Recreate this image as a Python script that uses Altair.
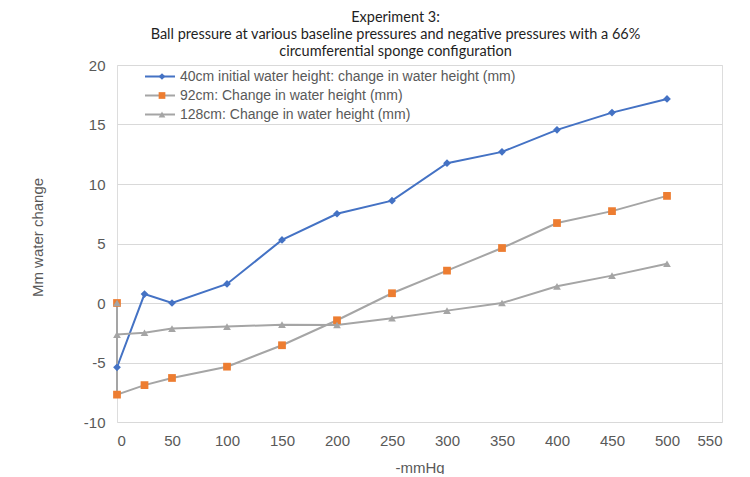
import altair as alt
import pandas as pd

series_names = [
    "40cm initial water height: change in water height (mm)",
    "92cm: Change in water height (mm)",
    "128cm: Change in water height (mm)",
]
x1 = [0, 25, 50, 100, 150, 200, 250, 300, 350, 400, 450, 500]
y1 = [-5.4, 0.75, 0, 1.6, 5.3, 7.5, 8.6, 11.75, 12.7, 14.55, 16.0, 17.15]
x2 = [0, 0, 25, 50, 100, 150, 200, 250, 300, 350, 400, 450, 500]
y2 = [0, -7.7, -6.9, -6.3, -5.35, -3.55, -1.45, 0.82, 2.72, 4.62, 6.72, 7.72, 9.0]
x3 = [0, 0, 25, 50, 100, 150, 200, 250, 300, 350, 400, 450, 500]
y3 = [0, -2.65, -2.5, -2.15, -1.98, -1.82, -1.85, -1.28, -0.64, 0, 1.4, 2.3, 3.3]
x_ticks = list(range(0, 551, 50))
y_ticks = [-10, -5, 0, 5, 10, 15, 20]

line_colors = ["#4472C4", "#A5A5A5", "#A5A5A5"]
marker_colors = ["#4472C4", "#ED7D31", "#A5A5A5"]
marker_shapes = ["diamond", "square", "triangle-up"]

rows = []
idx = 0
for name, xs, ys in zip(series_names, [x1, x2, x3], [y1, y2, y3]):
    for xv, yv in zip(xs, ys):
        rows.append({"series": name, "line_series": name, "x": xv, "y": yv, "idx": idx})
        idx += 1
df = pd.DataFrame(rows)

LABEL_FONT = "Liberation Sans"
LABEL_COLOR = "#595959"

x_enc = alt.X(
    "x:Q",
    scale=alt.Scale(domain=[0, 550], nice=False, zero=False),
    axis=alt.Axis(
        values=x_ticks, title="-mmHg", grid=False, domain=False, ticks=False,
        labelPadding=11, labelFont=LABEL_FONT, labelFontSize=15, labelColor=LABEL_COLOR,
        labelExpr="'' + datum.value",
        titleFont=LABEL_FONT, titleFontSize=15, titleFontWeight="normal", titleColor=LABEL_COLOR,
        titleY=45, titleBaseline="middle",
    ),
)
y_enc = alt.Y(
    "y:Q",
    scale=alt.Scale(domain=[-10, 20], nice=False, zero=False),
    axis=alt.Axis(
        values=y_ticks, title="Mm water change", grid=True, gridColor="#D9D9D9", gridWidth=1,
        domain=False, ticks=False, labelPadding=12,
        labelFont=LABEL_FONT, labelFontSize=15, labelColor=LABEL_COLOR,
        labelExpr="'' + datum.value",
        titleFont=LABEL_FONT, titleFontSize=15, titleFontWeight="normal", titleColor=LABEL_COLOR,
        titleX=-80, titleY=172, titleAngle=270, titleBaseline="middle", titleAlign="center",
    ),
)

base = alt.Chart(df)

lines = base.mark_line(strokeWidth=2).encode(
    x=x_enc,
    y=y_enc,
    stroke=alt.Stroke(
        "line_series:N",
        sort=series_names,
        scale=alt.Scale(range=line_colors),
        legend=alt.Legend(
            title=None, orient="none", legendX=27, legendY=2, padding=0,
            symbolType="stroke", symbolSize=900, symbolStrokeWidth=2,
            clipHeight=19, rowPadding=0, labelOffset=4,
            labelFont=LABEL_FONT, labelFontSize=14, labelColor=LABEL_COLOR, labelLimit=600,
        ),
    ),
    order=alt.Order("idx:Q"),
)

pt_legend = alt.Legend(
    title=None, orient="none", legendX=38, legendY=2, padding=0,
    symbolSize=45, symbolStrokeWidth=0, clipHeight=19, rowPadding=0,
    labelExpr="''", labelFontSize=14, labelFont=LABEL_FONT,
)

points = base.mark_point(filled=True, size=60, opacity=1, strokeWidth=0).encode(
    x=x_enc,
    y=y_enc,
    fill=alt.Fill("series:N", scale=alt.Scale(domain=series_names, range=marker_colors), legend=pt_legend),
    shape=alt.Shape("series:N", scale=alt.Scale(domain=series_names, range=marker_shapes), legend=pt_legend),
    order=alt.Order("idx:Q"),
)

chart = alt.layer(lines, points).properties(
    width=605,
    height=357,
    autosize=alt.AutoSizeParams(type="none"),
    padding={"left": 109, "top": 57, "right": 20, "bottom": 52},
    title=alt.TitleParams(
        text=[
            "Experiment 3:",
            "Ball pressure at various baseline pressures and negative pressures with a 66%",
            "circumferential sponge configuration",
        ],
        font="Lato", fontSize=14.5, fontWeight="normal", color="#1f1f1f",
        lineHeight=17, anchor="middle", dx=-24, offset=-1,
    ),
).configure_view(stroke=None).configure(background="white")

chart.save("out.html", embed_options={"renderer": "svg", "actions": False})
